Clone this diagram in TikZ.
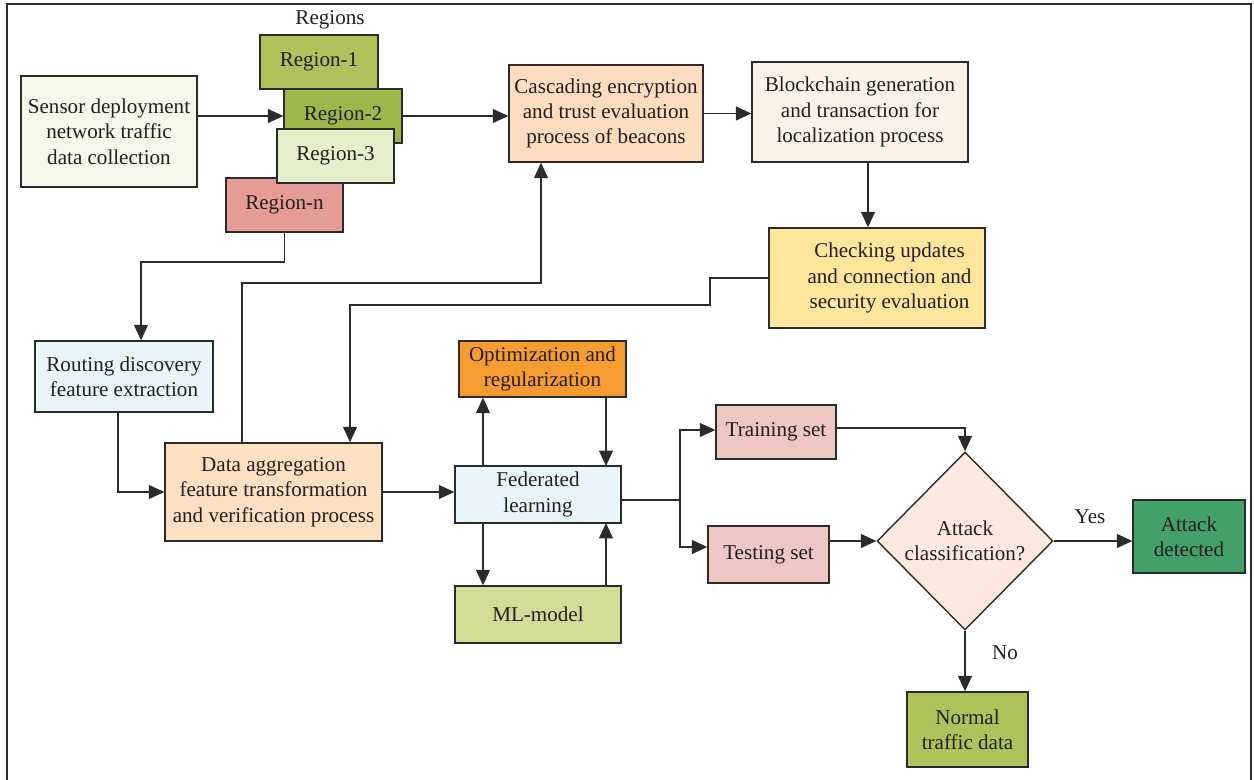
\documentclass[tikz,border=0pt]{standalone}
\usepackage{fontspec}
\setmainfont{Liberation Serif}
\usetikzlibrary{arrows.meta,shapes.geometric,calc}
\definecolor{linec}{HTML}{2B2B2B}
\definecolor{txt}{HTML}{231F20}
\definecolor{csensor}{HTML}{F4F8E7}
\definecolor{creg1}{HTML}{AFC25B}
\definecolor{creg2}{HTML}{9EB74B}
\definecolor{creg3}{HTML}{E6EFCB}
\definecolor{cregn}{HTML}{E59C96}
\definecolor{ccasc}{HTML}{FDDCC0}
\definecolor{cblock}{HTML}{FEF1E6}
\definecolor{ccheck}{HTML}{FFE69C}
\definecolor{cblue}{HTML}{E8F5FA}
\definecolor{cdata}{HTML}{FDDFC2}
\definecolor{coptim}{HTML}{F79C31}
\definecolor{cml}{HTML}{D3DC97}
\definecolor{cset}{HTML}{EEC6C2}
\definecolor{cdiam}{HTML}{FDE9DD}
\definecolor{cattack}{HTML}{42A068}
\definecolor{cnormal}{HTML}{AEC35A}
\begin{document}
\begin{tikzpicture}[x=0.02cm,y=-0.02cm,
  font=\fontsize{12}{14.4}\selectfont,
  box/.style={draw=linec, line width=0.8pt, inner sep=0pt, align=center, text=txt},
  sz/.style 2 args={minimum width=#1*0.2mm, minimum height=#2*0.2mm},
  arr/.style={-{Triangle[length=0.31cm,width=0.28cm]}, line width=0.7pt, draw=linec},
  ln/.style={line width=0.7pt, draw=linec},
  lbl/.style={text=txt, inner sep=0pt}]
\useasboundingbox (0,0) rectangle (1254,780);
\draw[linec, line width=0.8pt] (7,780) -- (7,4) -- (1251,4) -- (1251,780);

\node[lbl] (regions) at (330,20) {Regions};
\node[box, fill=csensor, sz={176}{111}] (sensor) at (109,131.5) {Sensor deployment\\network traffic\\data collection};
\node[box, fill=cregn, sz={117}{54}] (rn) at (284.5,205) {Region-n};
\node[box, fill=creg1, sz={118}{54}] (r1) at (319,62) {Region-1};
\node[box, fill=creg2, sz={118}{54}] (r2) at (343,116) {Region-2};
\node[box, fill=creg3, sz={117}{54}] (r3) at (335.5,156) {Region-3};

\node[box, fill=ccasc, sz={194}{97}] (casc) at (606,113.5) {Cascading encryption\\and trust evaluation\\process of beacons};
\node[box, fill=cblock, sz={216}{100}] (block) at (860,112) {Blockchain generation\\and transaction for\\localization process};
\node[box, fill=ccheck, sz={216}{100}] (check) at (877,278) {\hspace*{0.5cm}Checking updates\\\hspace*{0.5cm}and connection and\\\hspace*{0.5cm}security evaluation};
\node[box, fill=cblue, sz={178}{71}] (route) at (124,376.5) {Routing discovery\\feature extraction};
\node[box, fill=cdata, sz={217}{98}] (data) at (273.5,492) {Data aggregation\\feature transformation\\and verification process};
\node[box, fill=cblue, sz={166}{57}] (fed) at (538,494.5) {Federated\\learning};
\node[box, fill=coptim, sz={167}{56}] (optim) at (542.5,369) {Optimization and\\regularization};
\node[box, fill=cml, sz={166}{57}] (ml) at (538,614.5) {ML-model};
\node[box, fill=cset, sz={120}{54}] (train) at (776,432) {Training set};
\node[box, fill=cset, sz={121}{57}] (test) at (768.5,554.5) {Testing set};
\node[box, diamond, aspect=1, fill=cdiam, sz={176}{178}] (diam) at (965,541) {Attack\\classification?};
\node[box, fill=cattack, sz={112}{73}] (attack) at (1189,536.5) {Attack\\detected};
\node[box, fill=cnormal, sz={121}{75}] (normal) at (967.5,729.5) {Normal\\traffic data};

% connectors
\draw[arr] (sensor.east |- r2.west) -- (r2.west);
\draw[arr] (r2.east) -- (r2.east -| casc.west);
\draw[arr] (casc.east) -- (casc.east -| block.west);
\coordinate (bk) at (868,162);
\draw[arr] (bk) -- (bk |- check.north);
\coordinate (c1) at (710,278);
\coordinate (c2) at (710,305);
\coordinate (c3) at (350,305);
\draw[arr] (check.west) -- (c1) -- (c2) -- (c3) -- (c3 |- data.north);
\coordinate (d1) at (242,443);
\coordinate (d2) at (242,283);
\coordinate (d3) at (541,283);
\draw[arr] (d1) -- (d2) -- (d3) -- (d3 |- casc.south);
\coordinate (n1) at (284.5,262);
\coordinate (n2) at (141,262);
\draw[arr] (rn.south) -- (n1) -- (n2) -- (n2 |- route.north);
\coordinate (q1) at (118,412);
\draw[arr] (q1) -- (q1 |- data.west) -- (data.west);
\draw[arr] (data.east) -- (data.east -| fed.west);
\coordinate (fl) at (483,466);
\coordinate (fr) at (606,466);
\coordinate (gl) at (483,523);
\coordinate (gr) at (606,523);
\draw[arr] (fl) -- (fl |- optim.south);
\draw[arr] (fr |- optim.south) -- (fr);
\draw[arr] (gl) -- (gl |- ml.north);
\draw[arr] (gr |- ml.north) -- (gr);
\coordinate (fe) at (621,500);
\coordinate (sp) at (680,500);
\draw[ln] (fe) -- (sp);
\draw[arr] (sp) -- (680,430) -- (train.west |- 680,430);
\draw[arr] (sp) -- (680,547) -- (test.west |- 680,547);
\coordinate (t1) at (836,428);
\draw[arr] (t1) -- (965,428) -- (diam.north);
\draw[arr] (test.east |- diam.west) -- (diam.west);
\draw[arr] (diam.east) -- (diam.east -| attack.west);
\draw[arr] (diam.south) -- (diam.south |- normal.north);
\node[lbl] (yes) at (1090,517) {Yes};
\node[lbl] (no) at (1005,653) {No};
\end{tikzpicture}
\end{document}
